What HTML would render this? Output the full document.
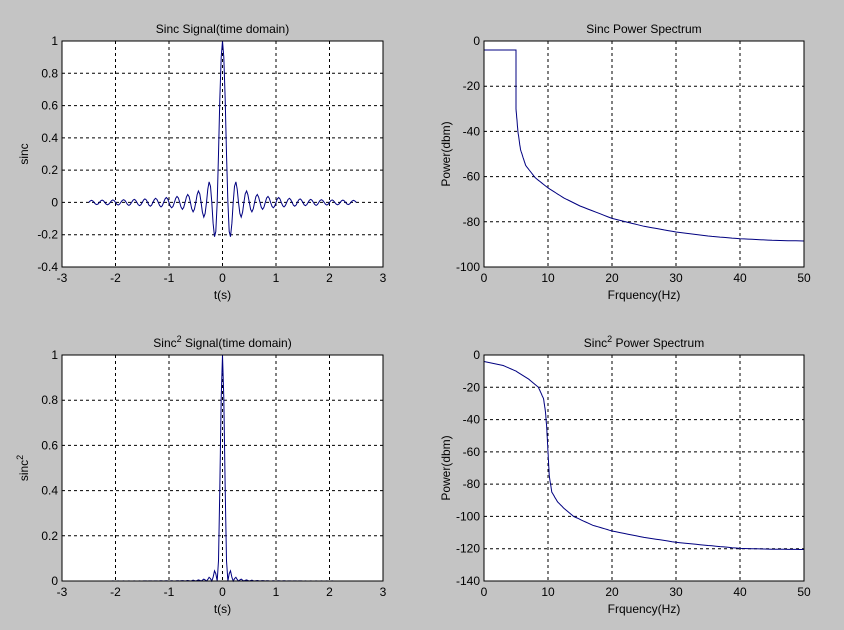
<!DOCTYPE html>
<html><head><meta charset="utf-8"><style>
html,body{margin:0;padding:0;background:#c4c4c4;}
svg{display:block;font-family:"Liberation Sans",sans-serif;}
</style></head><body>
<svg id="s" width="844" height="630" xmlns="http://www.w3.org/2000/svg"></svg>
<script>
const S=document.getElementById('s');let h='';
function ax(L,R,T,B,xmin,xmax,xs,ymin,ymax,ys,title,xl,yl,data,sup){
 h+=`<rect x="${L}" y="${T}" width="${R-L}" height="${B-T}" fill="#fff"/>`;
 const X=v=>L+(v-xmin)/(xmax-xmin)*(R-L), Y=v=>B-(v-ymin)/(ymax-ymin)*(B-T);
 for(let v=xmin;v<=xmax+1e-9;v+=xs){const x=X(v).toFixed(1);
  if(v>xmin+1e-9&&v<xmax-1e-9)h+=`<line x1="${x}" y1="${T}" x2="${x}" y2="${B}" stroke="#000" stroke-dasharray="3,3"/>`;
  h+=`<text x="${x}" y="${B+15}" font-size="12" text-anchor="middle">${+v.toFixed(2)}</text>`;}
 for(let v=ymin;v<=ymax+1e-9;v+=ys){const y=Y(v).toFixed(1);
  if(v>ymin+1e-9&&v<ymax-1e-9)h+=`<line x1="${L}" y1="${y}" x2="${R}" y2="${y}" stroke="#000" stroke-dasharray="3,3"/>`;
  h+=`<text x="${L-4}" y="${+y+4}" font-size="12" text-anchor="end">${+v.toFixed(2)}</text>`;}
 let p='';data.forEach((d,i)=>{p+=(i?'L':'M')+X(d[0]).toFixed(1)+','+Y(d[1]).toFixed(1);});
 h+=`<path d="${p}" fill="none" stroke="#000080" stroke-width="1"/>`;
 h+=`<rect x="${L}" y="${T}" width="${R-L}" height="${B-T}" fill="none" stroke="#000"/>`;
 const cx=(L+R)/2;
 h+=`<text x="${cx}" y="${T-8}" font-size="12" text-anchor="middle">${title}</text>`;
 h+=`<text x="${cx}" y="${B+32}" font-size="12" text-anchor="middle">${xl}</text>`;
 h+=`<text transform="translate(${L-34},${(T+B)/2}) rotate(-90)" font-size="12" text-anchor="middle">${yl}</text>`;
}
const sinc=t=>t==0?1:Math.sin(Math.PI*10*t)/(Math.PI*10*t);
let d1=[],d2=[];for(let i=-100;i<=100;i++){const t=i*0.025;d1.push([t,sinc(t)]);d2.push([t,sinc(t)**2]);}
function interp(pts){let o=[];for(let i=0;i<pts.length-1;i++){const[a,b]=pts[i],[c,e]=pts[i+1];for(let k=0;k<8;k++){const u=k/8;o.push([a+(c-a)*u,b+(e-b)*u]);}}o.push(pts[pts.length-1]);return o;}
const p1=interp([[0,-4],[5,-4],[5,-30],[5.3,-40],[5.7,-48],[6.5,-55],[8,-60.5],[10,-65],[12.5,-69.5],[15,-73],[20,-78.5],[25,-82],[30,-84.5],[35,-86.3],[40,-87.5],[45,-88.2],[50,-88.5]]);
const p2=interp([[0,-4],[3,-6.5],[5,-10],[7,-15],[8.5,-20],[9.3,-27],[9.6,-35],[9.8,-45],[10,-60],[10.2,-75],[10.6,-85],[11.5,-91],[12.5,-95],[14,-100],[17,-105.5],[20,-109],[25,-113],[30,-116],[35,-118],[40,-119.8],[45,-120.3],[50,-120.5]]);
ax(62,383,41,267,-3,3,1,-0.4,1,0.2,'Sinc Signal(time domain)','t(s)','sinc',d1);
ax(484,804,41,267,0,50,10,-100,0,20,'Sinc Power Spectrum','Frquency(Hz)','Power(dbm)',p1);
ax(62,383,355,581,-3,3,1,0,1,0.2,'Sinc<tspan dy="-5" font-size="9">2</tspan><tspan dy="5"> Signal(time domain)</tspan>','t(s)','sinc<tspan dy="-5" font-size="9">2</tspan>',d2);
ax(484,804,355,581,0,50,10,-140,0,20,'Sinc<tspan dy="-5" font-size="9">2</tspan><tspan dy="5"> Power Spectrum</tspan>','Frquency(Hz)','Power(dbm)',p2);
S.innerHTML=h;
</script>
</body></html>
